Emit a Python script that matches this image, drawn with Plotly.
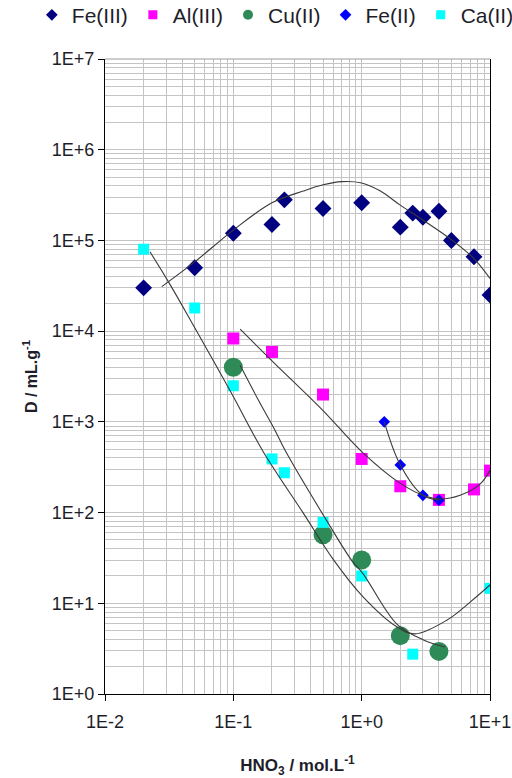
import plotly.graph_objects as go

# HNO3 concentration (mol/L) and distribution ratios D (mL/g)
fe3_x = [0.02, 0.05, 0.1, 0.2, 0.25, 0.5, 1.0, 2.0, 2.5, 3.0, 4.0, 5.0, 7.5, 10]
fe3_y = [3.0e4, 5.0e4, 1.2e5, 1.5e5, 2.8e5, 2.25e5, 2.6e5, 1.4e5, 2.0e5, 1.8e5, 2.1e5, 1.0e5, 6.6e4, 2.5e4]

al3_x = [0.1, 0.2, 0.5, 1.0, 2.0, 4.0, 7.5, 10]
al3_y = [8.3e3, 5.9e3, 2.0e3, 390, 195, 138, 180, 290]

cu2_x = [0.1, 0.5, 1.0, 2.0, 4.0]
cu2_y = [4.0e3, 57, 30, 4.4, 2.95]

fe2_x = [1.5, 2.0, 3.0, 4.0]
fe2_y = [1.0e3, 335, 155, 137]

ca2_x = [0.02, 0.05, 0.1, 0.2, 0.25, 0.5, 1.0, 2.5, 10]
ca2_y = [8.0e4, 1.8e4, 2.5e3, 390, 275, 78, 20, 2.75, 14.6]

# Fitted trend curves
fe3_fit_x = [0.0277, 0.05, 0.1, 0.2, 0.35, 0.5, 0.7, 1.0, 1.4, 2.0, 3.0, 5.0, 7.5, 10]
fe3_fit_y = [3.1e4, 5.8e4, 1.3e5, 2.6e5, 3.5e5, 4.1e5, 4.45e5, 4.3e5, 3.5e5, 2.45e5, 1.68e5, 1.02e5, 6.3e4, 3.8e4]

al3_fit_x = [0.113, 0.2, 0.5, 1.0, 2.0, 3.2, 4.1, 5.85, 8.4, 10]
al3_fit_y = [1.05e4, 4.7e3, 1.33e3, 470, 210, 150, 141, 155, 207, 292]

fe2_fit_x = [1.5, 2.0, 3.0, 4.0]
fe2_fit_y = [1.0e3, 335, 155, 137]

cu2_fit_x = [0.113, 0.157, 0.211, 0.253, 0.535, 0.84, 1.03, 1.88, 3.03, 4.47]
cu2_fit_y = [4.2e3, 1.73e3, 810, 486, 81, 29.4, 21, 5.9, 3.95, 3.3]

ca2_fit_x = [0.0224, 0.032, 0.0488, 0.097, 0.17, 0.352, 0.6, 1.03, 1.88, 2.6, 4.6, 7.0, 10]
ca2_fit_y = [7.5e4, 3.3e4, 1.16e4, 2.05e3, 475, 98, 30.5, 11.7, 5.5, 4.6, 6.5, 10.3, 15.9]

x_ticks = [0.01, 0.1, 1, 10]
x_labels = ["1E-2", "1E-1", "1E+0", "1E+1"]
y_ticks = [1, 10, 100, 1e3, 1e4, 1e5, 1e6, 1e7]
y_labels = ["1E+0", "1E+1", "1E+2", "1E+3", "1E+4", "1E+5", "1E+6", "1E+7"]

FONT = "Arial, 'Liberation Sans', sans-serif"
TEXT = "#1e1e2a"
GRID = "#c4c4c4"
LINE = "#3a3a3a"

series = [
    ("Fe(III)", fe3_x, fe3_y, "diamond", 13, "#000080", 9),
    ("Al(III)", al3_x, al3_y, "square", 12, "#ff00ff", 9),
    ("Cu(II)", cu2_x, cu2_y, "circle", 19, "#2e8b57", 10),
    ("Fe(II)", fe2_x, fe2_y, "diamond", 9, "#0000ff", 9),
    ("Ca(II)", ca2_x, ca2_y, "square", 11, "#00ffff", 9),
]

fig = go.Figure()

for name, xs, ys, sym, size, color, _ in series:
    fig.add_trace(go.Scatter(
        x=xs, y=ys, mode="markers", name=name, showlegend=False,
        marker=dict(symbol=sym, size=size, color=color, line=dict(width=0)),
    ))

for fx, fy in [(fe3_fit_x, fe3_fit_y), (al3_fit_x, al3_fit_y), (fe2_fit_x, fe2_fit_y),
               (cu2_fit_x, cu2_fit_y), (ca2_fit_x, ca2_fit_y)]:
    fig.add_trace(go.Scatter(
        x=fx, y=fy, mode="lines", showlegend=False, hoverinfo="skip",
        line=dict(color=LINE, width=1.1, shape="spline", smoothing=1.0),
    ))

# legend entries with compact symbols
for name, xs, ys, sym, size, color, lsize in series:
    fig.add_trace(go.Scatter(
        x=[None], y=[None], mode="markers", name=name,
        marker=dict(symbol=sym, size=lsize, color=color, line=dict(width=0)),
    ))

minor_x = [m * 10.0 ** k for k in range(-2, 1) for m in range(2, 10)]
minor_y = [m * 10.0 ** k for k in range(0, 7) for m in range(2, 10)]

fig.update_xaxes(
    type="log", range=[-2, 1],
    tickvals=x_ticks, ticktext=x_labels,
    ticks="outside", ticklen=6, tickcolor="#000", tickwidth=1,
    ticklabelstandoff=5,
    showline=True, linecolor="#000", linewidth=1.3,
    showgrid=True, gridcolor=GRID, gridwidth=1,
    minor=dict(tickvals=minor_x, showgrid=True, gridcolor=GRID, gridwidth=1, ticks=""),
    tickfont=dict(family=FONT, size=18, color=TEXT),
    title=dict(text="<b>HNO<sub>3</sub> / mol.L<sup>-1</sup></b>",
               font=dict(family=FONT, size=17, color=TEXT), standoff=30),
    zeroline=False,
)
fig.update_yaxes(
    type="log", range=[0, 7],
    tickvals=y_ticks, ticktext=y_labels,
    ticks="outside", ticklen=6, tickcolor="#000", tickwidth=1,
    showline=True, linecolor="#000", linewidth=1.3, mirror=True,
    showgrid=True, gridcolor=GRID, gridwidth=1,
    minor=dict(tickvals=minor_y, showgrid=True, gridcolor=GRID, gridwidth=1, ticks=""),
    tickfont=dict(family=FONT, size=18, color=TEXT),
    title=dict(text="<b>D / mL.g<sup>-1</sup></b>",
               font=dict(family=FONT, size=16, color=TEXT), standoff=10),
    zeroline=False,
)

fig.add_shape(type="line", xref="paper", yref="paper", x0=0, x1=1, y0=1, y1=1,
              line=dict(color="#9a9a9a", width=1))

fig.update_layout(
    width=512, height=778,
    margin=dict(l=105, r=22, t=59, b=84, autoexpand=False),
    paper_bgcolor="white", plot_bgcolor="white",
    font=dict(family=FONT, color=TEXT),
    legend=dict(
        orientation="h", x=-0.19, xanchor="left", y=1.069, yanchor="middle",
        font=dict(family=FONT, size=21, color=TEXT),
        itemwidth=30, tracegroupgap=0, bgcolor="rgba(0,0,0,0)",
    ),
)

fig.write_html("out.html")
